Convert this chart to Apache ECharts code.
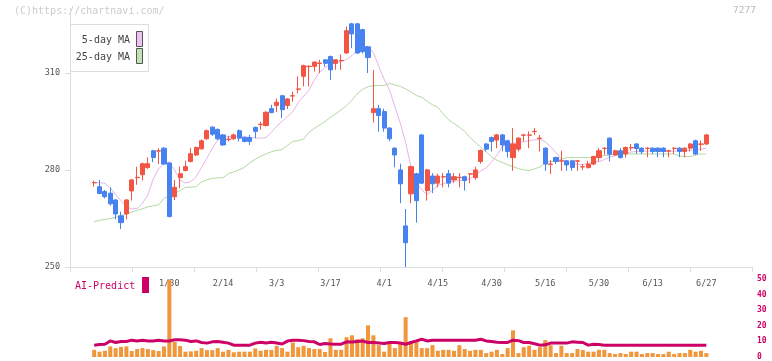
<!DOCTYPE html>
<html><head><meta charset="utf-8">
<script src="https://cdn.jsdelivr.net/npm/echarts@6/dist/echarts.min.js"></script>
<style>html,body{margin:0;padding:0;background:#fff}#c{width:772px;height:361px}</style>
</head><body><div id="c"></div>
<script>
const dates = [
'1/9','1/10','1/14','1/15','1/16','1/17','1/20','1/21','1/22','1/23','1/24','1/27','1/28','1/29','1/30','1/31',
'2/3','2/4','2/5','2/6','2/7','2/10','2/12','2/13','2/14','2/17','2/18','2/19','2/20','2/21','2/25','2/26','2/27','2/28',
'3/3','3/4','3/5','3/6','3/7','3/10','3/11','3/12','3/13','3/14','3/17','3/18','3/19','3/21','3/24','3/25','3/26','3/27','3/28','3/31',
'4/1','4/2','4/3','4/4','4/7','4/8','4/9','4/10','4/11','4/14','4/15','4/16','4/17','4/18','4/21','4/22','4/23','4/24','4/25','4/28','4/30',
'5/1','5/2','5/7','5/8','5/9','5/12','5/13','5/14','5/15','5/16','5/19','5/20','5/21','5/22','5/23','5/26','5/27','5/28','5/29','5/30',
'6/2','6/3','6/4','6/5','6/6','6/9','6/10','6/11','6/12','6/13','6/16','6/17','6/18','6/19','6/20','6/23','6/24','6/25','6/26','6/27'];
const tickLabels = ['1/30','2/14','3/3','3/17','4/1','4/15','4/30','5/16','5/30','6/13','6/27'];
const priceTicks = [250, 280, 310];
const opens = [276.0,274.8,273.3,272.8,270.7,265.8,266.4,273.5,277.6,278.5,
280.7,285.9,285.8,286.7,282.1,271.7,277.6,279.8,282.6,284.6,
286.5,289.6,293.2,292.5,290.8,289.4,289.6,292.1,290.0,290.0,
293.1,294.0,293.7,298.9,299.9,302.9,299.9,302.8,304.9,308.9,
311.9,312.0,312.9,314.0,315.0,312.9,313.7,316.1,325.1,325.1,
323.3,318.0,297.7,298.9,298.0,292.9,286.7,280.0,262.7,272.6,
278.8,290.8,273.6,278.1,275.9,277.8,278.8,276.9,277.6,277.9,
278.7,277.6,282.6,288.0,290.0,289.2,290.8,289.0,283.8,286.4,
290.7,290.7,291.8,289.7,286.7,281.7,283.8,282.7,282.8,282.8,
282.7,280.9,280.7,281.8,283.8,286.6,289.8,284.6,285.9,284.9,
286.8,288.0,286.7,286.6,286.7,286.7,286.7,285.8,286.6,286.7,
285.7,286.7,289.0,287.9,288.0];
const closes = [276.1,272.7,271.7,269.5,266.4,263.7,270.7,276.9,277.7,281.9,
281.9,283.8,285.9,281.8,265.6,274.6,278.8,281.0,285.0,286.9,
289.0,292.1,291.0,289.6,287.7,289.5,290.8,289.8,288.8,288.8,
291.9,294.1,297.8,297.7,300.9,298.6,301.9,302.9,305.0,312.2,
312.0,313.3,313.0,312.9,310.9,314.0,313.8,323.0,322.0,316.1,
316.5,314.7,298.9,296.8,292.9,289.6,284.6,275.7,257.5,281.0,
270.5,275.9,280.0,275.7,278.1,277.9,275.9,277.9,277.7,276.7,
278.8,280.0,286.0,286.4,288.8,290.8,287.7,285.7,288.0,289.8,
290.8,290.8,291.9,289.8,281.8,281.8,282.6,282.8,281.5,280.7,
282.8,281.0,281.8,284.1,285.9,286.7,284.8,285.9,283.8,286.9,
286.9,286.6,285.6,286.7,285.7,285.7,285.7,285.9,286.7,285.7,
286.7,288.0,284.9,288.0,290.8];
const lows = [274.8,272.5,271.2,269.0,264.7,261.7,264.7,270.5,275.4,276.7,
280.3,282.4,281.8,281.5,265.3,270.7,274.3,279.5,282.3,284.3,
286.2,289.3,290.5,289.2,287.4,288.8,289.3,288.8,288.5,287.7,
289.8,292.4,293.4,297.5,297.8,296.0,298.8,301.1,303.7,305.8,
305.8,310.4,309.9,311.9,307.8,310.9,310.9,315.8,317.6,315.8,
316.0,309.9,294.6,291.8,291.8,288.8,280.8,269.7,250.0,269.7,
263.7,275.6,270.5,272.8,274.6,274.6,274.6,275.9,274.6,273.6,
275.9,276.9,281.9,285.7,285.7,286.7,285.7,283.8,279.7,285.7,
288.8,286.7,290.8,285.7,279.7,278.7,281.8,279.7,279.7,279.7,
279.7,280.0,280.4,281.5,282.6,284.6,282.6,284.3,283.5,283.8,
285.9,284.9,284.9,283.9,284.9,283.9,283.9,283.9,284.9,283.9,
283.9,285.7,284.6,285.9,287.7];
const highs = [276.7,276.9,273.8,274.6,271.0,267.1,271.0,277.2,281.0,282.2,
283.9,286.2,286.7,287.0,282.4,276.9,281.0,282.8,286.7,287.2,
289.4,292.5,293.5,292.8,291.1,290.5,291.2,292.5,290.3,290.8,
293.4,294.8,298.1,300.1,302.0,303.2,302.2,304.2,308.9,312.5,
312.3,313.5,314.0,314.2,315.3,314.2,315.6,324.3,325.4,325.4,
323.6,318.3,310.9,300.1,298.9,293.2,287.0,281.9,267.9,281.3,
279.1,291.1,280.3,279.0,278.8,279.0,280.0,279.0,279.0,278.2,
279.0,281.0,286.3,288.3,290.3,291.1,291.1,289.3,292.9,290.1,
291.1,291.9,292.9,290.8,287.0,283.1,284.1,285.9,283.1,283.1,
283.1,281.8,282.8,284.4,286.7,287.0,290.1,286.2,286.7,287.2,
288.0,288.3,287.0,287.0,287.0,287.0,287.0,286.2,287.0,287.0,
287.0,288.3,289.3,289.0,291.1];
const ma5 = [276.1,276.0,275.9,274.4,272.3,270.5,268.6,267.9,268.1,269.7,
272.3,277.2,280.3,282.0,282.5,279.8,276.9,275.9,276.4,277.9,
280.8,283.6,286.7,289.2,290.0,290.3,290.3,290.5,290.3,290.0,
289.8,289.8,290.0,291.6,293.5,295.0,296.5,298.0,300.8,302.7,
304.6,307.8,310.2,311.7,312.6,313.0,313.6,314.0,315.3,317.0,
318.0,318.0,316.2,312.0,308.0,304.7,299.5,294.5,288.5,280.8,
276.2,273.8,272.4,273.7,275.3,275.7,276.3,276.5,276.7,276.9,
277.3,278.2,279.7,280.6,282.4,284.5,287.2,288.0,288.3,288.3,
288.7,289.0,289.3,289.4,288.7,287.2,285.3,283.3,282.3,282.0,
281.7,281.6,282.0,282.5,282.5,283.2,284.0,284.4,285.0,285.2,
285.5,285.7,285.8,285.8,285.9,285.8,285.7,285.7,285.8,285.8,
285.9,286.0,286.2,286.4,286.7];
const ma25 = [264.0,264.4,264.7,265.0,265.3,265.8,266.4,267.0,267.5,268.0,
268.6,268.9,269.2,271.2,272.0,272.8,273.6,274.6,274.7,274.8,
276.3,276.9,277.4,277.5,277.6,278.8,279.4,280.0,280.8,282.2,
283.3,284.2,284.9,285.6,286.0,286.3,287.6,288.8,289.0,289.5,
291.6,292.8,293.9,295.0,296.2,297.3,298.6,299.8,301.5,303.5,
304.9,305.7,306.0,306.1,306.1,306.7,306.2,305.8,305.0,304.1,
303.0,302.4,301.2,300.1,299.3,297.3,295.5,294.3,293.2,291.9,
290.0,288.5,287.0,285.6,284.0,283.0,282.3,281.6,281.0,280.4,
280.0,279.8,280.3,280.9,282.2,282.6,282.6,283.3,283.8,283.8,
283.8,283.8,283.8,284.0,284.1,284.4,284.6,284.9,284.9,284.9,
284.9,284.9,284.9,284.9,284.9,284.9,284.9,284.9,284.9,284.3,
284.1,284.1,284.6,284.9,284.9];
const volume = [4.6,3.4,4.0,6.8,5.7,6.5,6.8,3.8,5.1,5.7,
5.1,4.4,3.8,6.8,49.5,9.7,7.0,3.4,3.6,4.0,
5.7,4.4,4.4,5.7,3.4,4.6,3.0,3.4,3.4,3.4,
5.5,4.0,4.6,4.6,7.2,5.7,3.4,9.3,6.3,7.2,
5.7,5.1,5.1,3.2,12.0,4.6,4.6,12.7,13.9,11.4,
12.0,20.3,13.9,7.6,3.4,8.7,5.7,8.7,25.5,9.3,
9.7,5.7,5.7,7.6,4.0,4.6,4.6,4.0,7.6,5.1,
4.0,4.6,4.6,2.5,3.4,4.6,1.9,5.7,17.1,2.5,
6.3,7.2,4.6,6.3,10.8,7.6,2.5,7.2,2.5,2.5,
5.1,4.4,3.4,3.4,4.6,4.6,2.5,1.9,2.5,1.9,
3.4,3.4,1.9,2.5,2.5,1.9,1.9,3.4,1.9,2.5,
2.5,4.6,3.4,4.0,2.5];
const aiPredict = [7.6,8.0,8.2,10.3,9.3,9.9,9.9,10.8,10.3,10.8,
10.3,10.3,10.8,10.3,10.3,11.0,11.0,10.8,9.9,10.3,
9.3,8.9,9.7,9.9,9.5,8.9,7.6,7.6,7.6,7.6,
8.9,9.5,9.0,9.5,9.0,8.3,10.2,10.8,10.8,10.5,
10.0,9.7,8.0,8.6,8.3,8.2,8.2,9.7,9.6,10.0,
10.2,9.3,9.3,9.0,8.6,9.3,9.3,9.0,8.2,9.3,
10.3,11.4,10.3,10.8,10.8,10.8,10.8,10.8,10.8,10.8,
10.8,10.8,11.4,10.3,9.9,9.5,9.3,9.3,10.8,10.5,
9.3,9.3,8.5,7.6,7.8,8.9,8.9,8.9,8.9,9.7,
9.5,9.3,7.6,8.2,8.0,7.6,7.6,7.6,7.6,7.6,
7.6,7.6,7.6,7.6,7.6,7.6,7.6,7.6,7.6,7.6,
7.6,7.6,7.6,7.6,7.6];
const volTicks = [0, 10, 20, 30, 40, 50];

const PAD_L = 4, PAD_R = 8;
const padL = new Array(PAD_L).fill('-');
const padR = new Array(PAD_R).fill('-');
const cats = new Array(PAD_L).fill('').concat(dates, new Array(PAD_R).fill(''));
const candle = padL.concat(dates.map((d, i) => [opens[i], closes[i], lows[i], highs[i]]), padR);
const pad = arr => padL.concat(arr, padR);

const MONO = 'DejaVu Sans Mono';
const chart = echarts.init(document.getElementById('c'), null, {renderer: 'canvas'});
chart.setOption({
  animation: false,
  backgroundColor: '#fff',
  grid: [
    {left: 70, right: 20, top: 8, height: 259},
    {left: 70, right: 20, top: 279, height: 79}
  ],
  xAxis: [
    {type: 'category', gridIndex: 0, data: cats, boundaryGap: true,
     axisLine: {lineStyle: {color: '#dddddd'}},
     axisTick: {show: false},
     axisLabel: {interval: (idx, val) => tickLabels.indexOf(val) >= 0, color: '#555',
                 fontFamily: MONO, fontSize: 8.5, margin: 12},
     splitLine: {show: false}},
    {type: 'value', gridIndex: 0, min: 0, max: tickLabels.length, interval: 1, position: 'bottom',
     axisLine: {show: false}, axisLabel: {show: false}, splitLine: {show: false},
     axisTick: {show: true, length: 5, lineStyle: {color: '#dddddd'}}},
    {type: 'category', gridIndex: 1, data: cats, boundaryGap: true,
     axisLine: {show: false}, axisTick: {show: false}, axisLabel: {show: false}, splitLine: {show: false}}
  ],
  yAxis: [
    {type: 'value', gridIndex: 0, min: 250, max: 330, position: 'left',
     axisLine: {show: true, lineStyle: {color: '#dddddd'}},
     axisTick: {show: true, length: 5, customValues: priceTicks, lineStyle: {color: '#dddddd'}},
     axisLabel: {customValues: priceTicks, color: '#555', fontFamily: MONO, fontSize: 8.5, margin: 10},
     splitLine: {show: false}},
    {type: 'value', gridIndex: 1, min: 0, max: 50, position: 'right',
     axisLine: {show: false}, axisTick: {show: false},
     axisLabel: {customValues: volTicks, color: '#cc0066', fontFamily: MONO, fontSize: 8, fontWeight: 'bold', margin: 5},
     splitLine: {show: false}}
  ],
  series: [
    {type: 'line', xAxisIndex: 0, yAxisIndex: 0, data: pad(ma25), showSymbol: false, z: 2,
     lineStyle: {color: '#b2d9a3', width: 1}},
    {type: 'line', xAxisIndex: 0, yAxisIndex: 0, data: pad(ma5), showSymbol: false, z: 2,
     lineStyle: {color: '#e8b4e8', width: 1}},
    {type: 'candlestick', xAxisIndex: 0, yAxisIndex: 0, data: candle, barWidth: '86%', z: 3,
     itemStyle: {color: '#f25543', color0: '#4682f0', borderColor: '#f25543', borderColor0: '#4682f0', borderWidth: 1}},
    {type: 'bar', xAxisIndex: 2, yAxisIndex: 1, data: pad(volume), barWidth: '75%',
     itemStyle: {color: '#f0963c'}},
    {type: 'line', xAxisIndex: 2, yAxisIndex: 1, data: pad(aiPredict), showSymbol: false, z: 4,
     lineStyle: {color: '#cc0066', width: 3}}
  ],
  graphic: [
    {type: 'text', left: 14, top: 6, style: {text: '(C)https://chartnavi.com/', fill: '#cccccc', font: '10px "DejaVu Sans Mono"'}},
    {type: 'text', left: 733, top: 6, style: {text: '7277', fill: '#bbbbbb', font: '9.5px "DejaVu Sans Mono"'}},
    {type: 'rect', shape: {x: 70.5, y: 24.5, width: 78, height: 47}, style: {fill: '#fff', stroke: '#dddddd', lineWidth: 1}, z: 10},
    {type: 'text', x: 130, y: 40, style: {text: '5-day MA', fill: '#444', font: '10px "DejaVu Sans Mono"', align: 'right', verticalAlign: 'middle'}, z: 11},
    {type: 'text', x: 130, y: 57, style: {text: '25-day MA', fill: '#444', font: '10px "DejaVu Sans Mono"', align: 'right', verticalAlign: 'middle'}, z: 11},
    {type: 'rect', shape: {x: 136.5, y: 31.5, width: 6, height: 15}, style: {fill: '#f0c0f0', stroke: '#555', lineWidth: 1}, z: 11},
    {type: 'rect', shape: {x: 136.5, y: 48.5, width: 6, height: 15}, style: {fill: '#c2e2b4', stroke: '#555', lineWidth: 1}, z: 11},
    {type: 'text', x: 75, y: 286, style: {text: 'AI-Predict', fill: '#cc0066', font: '10px "DejaVu Sans Mono"', verticalAlign: 'middle'}, z: 11},
    {type: 'rect', shape: {x: 142, y: 277, width: 7, height: 16}, style: {fill: '#cc0066'}, z: 11}
  ]
});
</script>
</body></html>
